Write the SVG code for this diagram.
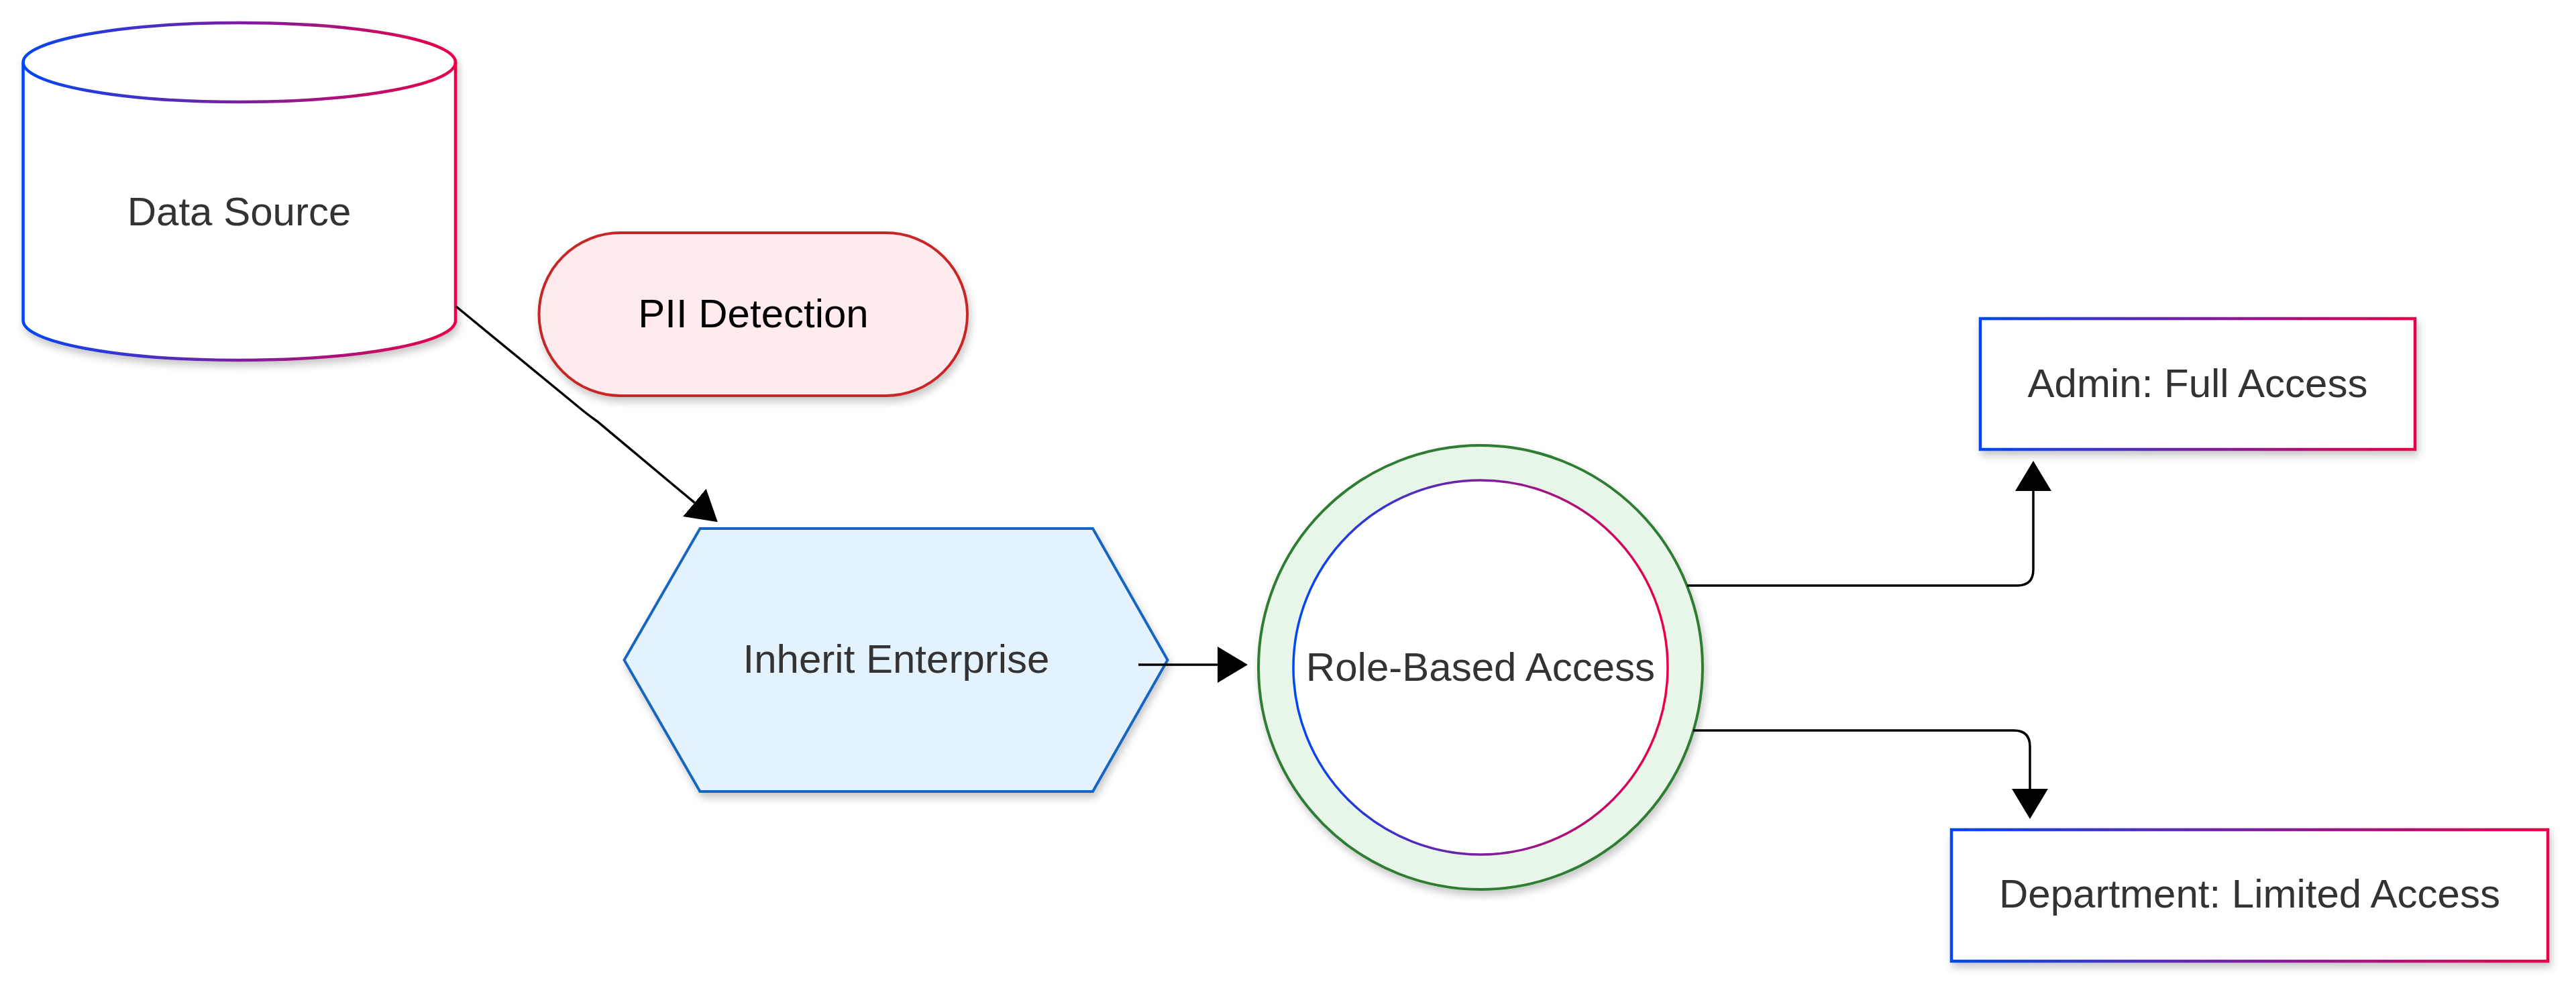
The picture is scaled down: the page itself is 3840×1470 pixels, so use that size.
<svg xmlns="http://www.w3.org/2000/svg" width="3840" height="1470" viewBox="0 0 3840 1470">
  <defs>
    <linearGradient id="grad" x1="0" y1="0" x2="1" y2="0">
      <stop offset="0" stop-color="#0047F5"/>
      <stop offset="0.5" stop-color="#7A1FA0"/>
      <stop offset="1" stop-color="#EB0047"/>
    </linearGradient>
    <filter id="shadow" x="-10%" y="-10%" width="125%" height="130%">
      <feDropShadow dx="3" dy="7" stdDeviation="6" flood-color="#000" flood-opacity="0.22"/>
    </filter>
    <marker id="arrow" viewBox="0 0 45 54" refX="0" refY="27" markerWidth="45" markerHeight="54" markerUnits="userSpaceOnUse" orient="auto">
      <path d="M0,0 L45,27 L0,54 Z" fill="#000"/>
    </marker>
    <style>
      .lbl { font-family: "Liberation Sans", Arial, sans-serif; font-size: 60px; fill: #333333; text-anchor: middle; }
      .conn { fill: none; stroke: #000; stroke-width: 3.5; marker-end: url(#arrow); }
      .gstroke { fill: #FFFFFF; stroke: url(#grad); stroke-width: 4.5; }
    </style>
  </defs>
  <rect width="3840" height="1470" fill="#FFFFFF"/>

  <g id="node-data-source">
    <path filter="url(#shadow)" class="gstroke" d="M34.5,93 A322.25,59 0 0 1 679,93 L679,478 A322.25,59 0 0 1 34.5,478 Z"/>
    <path d="M34.5,93 A322.25,59 0 0 0 679,93" fill="none" stroke="url(#grad)" stroke-width="4.5"/>
    <text class="lbl" x="356.5" y="336">Data Source</text>
  </g>

  <g id="node-pii-detection">
    <rect filter="url(#shadow)" x="803.5" y="347" width="638.5" height="243" rx="121.5" ry="121.5" fill="#FFEBEE" stroke="#C62828" stroke-width="4"/>
    <text class="lbl" x="1123" y="488" style="fill:#000000">PII Detection</text>
  </g>

  <g id="node-inherit-enterprise">
    <polygon filter="url(#shadow)" points="930.5,984 1043.5,788 1629,788 1740.5,984 1629,1180 1043.5,1180" fill="#E3F2FD" stroke="#1565C0" stroke-width="4"/>
    <text class="lbl" x="1336" y="1003">Inherit Enterprise</text>
  </g>

  <g id="node-role-based-access">
    <circle filter="url(#shadow)" cx="2207" cy="995" r="331" fill="#E8F5E9" stroke="#2E7D32" stroke-width="4"/>
    <circle cx="2207" cy="995" r="279" fill="#FFFFFF" stroke="url(#grad)" stroke-width="3.5"/>
    <text class="lbl" x="2207" y="1015">Role-Based Access</text>
  </g>

  <g id="node-admin">
    <rect filter="url(#shadow)" class="gstroke" x="2952" y="475" width="648" height="195"/>
    <text class="lbl" x="3276" y="592">Admin: Full Access</text>
  </g>

  <g id="node-department">
    <rect filter="url(#shadow)" class="gstroke" x="2909" y="1237" width="889" height="196"/>
    <text class="lbl" x="3353.5" y="1353">Department: Limited Access</text>
  </g>

  <g id="connectors">
    <path class="conn" d="M680,457 L870,613 Q880,621 890,628 L1035.3,749.4"/>
    <path class="conn" d="M1697,991 L1815,991"/>
    <path class="conn" d="M2515,873 L3007,873 Q3031,873 3031,849 L3031,732"/>
    <path class="conn" d="M2524,1089 L3002,1089 Q3026,1089 3026,1113 L3026,1176"/>
  </g>
</svg>
